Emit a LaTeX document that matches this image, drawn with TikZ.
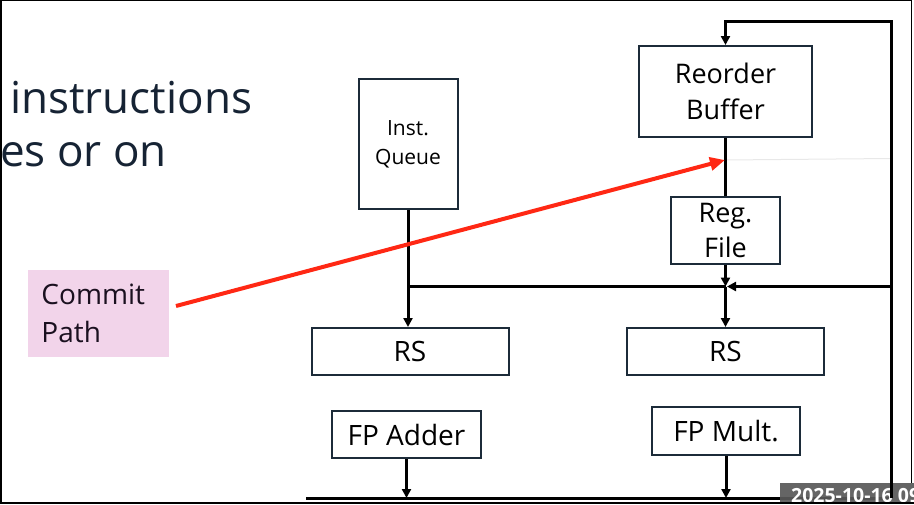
\documentclass[tikz,border=0pt]{standalone}
\usepackage{fontspec}
\setmainfont{Open Sans}
\usepackage{tikz}
\usetikzlibrary{arrows.meta}

\definecolor{slidetext}{RGB}{22,35,52}
\definecolor{boxedge}{RGB}{28,43,57}
\definecolor{commitpink}{RGB}{242,212,234}
\definecolor{commitred}{RGB}{255,40,20}
\definecolor{stampgray}{RGB}{88,88,88}

\tikzset{
  blk/.style={draw=boxedge, line width=2pt, fill=white, inner sep=0pt, align=center},
  conn/.style={line width=3pt},
  arr/.style={line width=3pt, -{Triangle[length=9pt,width=9pt]}},
}

\begin{document}
\begin{tikzpicture}[x=1pt,y=1pt,yscale=-1]
\useasboundingbox (0,0) rectangle (914,504);

% Text Node
\node[anchor=base west, inner sep=0pt, text=slidetext, font=\fontsize{44}{53}\selectfont] (txtA) at (10,113) {instructions};
% Text Node
\node[anchor=base west, inner sep=0pt, text=slidetext, font=\fontsize{44}{53}\selectfont] (txtB) at (0,166) {es or on};

%Shape: Rectangle [Inst. Queue]
\node[blk, minimum width=99, minimum height=130, font=\fontsize{21}{29}\selectfont] (iq) at (408,144) {Inst.\\Queue};
%Shape: Rectangle [Reorder Buffer]
\node[blk, minimum width=173, minimum height=91, font=\fontsize{27}{36}\selectfont] (rob) at (725.5,91.5) {Reorder\\Buffer};
%Shape: Rectangle [Reg. File]
\node[blk, minimum width=109, minimum height=67, font=\fontsize{27}{35.5}\selectfont] (rf) at (725.5,230.5) {Reg.\\File};
%Shape: Rectangle [RS]
\node[blk, minimum width=197, minimum height=47, font=\fontsize{28}{34}\selectfont] (rsA) at (410,351.5) {RS};
\node[blk, minimum width=197, minimum height=47, font=\fontsize{28}{34}\selectfont] (rsM) at (725.5,351.5) {RS};
%Shape: Rectangle [units]
\node[blk, minimum width=149, minimum height=47, font=\fontsize{28}{34}\selectfont] (fpa) at (406.5,434.5) {FP Adder};
\node[blk, minimum width=148, minimum height=48, font=\fontsize{28}{34}\selectfont] (fpm) at (726,431) {FP Mult.};

%Shape: Rectangle [Commit Path]
\node[fill=commitpink, minimum width=141, minimum height=87, text width=114, inner xsep=13.5, inner ysep=0pt, align=left, text={rgb,255:red,26;green,16;blue,31}, font=\fontsize{28}{38}\selectfont] (commit) at (98.5,313.5) {Commit\\Path};

% bus coordinates
\coordinate (busR) at (891,286.5);
\coordinate (busB) at (891,498);
\coordinate (busBL) at (306,498);
\coordinate (fbTop) at (891,21);
\coordinate (cpStart) at (176,306);
\coordinate (cpTip) at (725,160);
\coordinate (faintR) at (891,158.5);

% faint slide line
\draw[gray!18, line width=1pt] (cpTip) -- (faintR);

% connectors
\draw[conn] (rob) -- (rf);
\draw[arr] (rf) -- (rf.south |- busR);
\draw[arr] (busR) -- ([xshift=1.5pt]rf.south |- busR);
\draw[conn] (rf.south |- busR) -- (iq.south |- busR);
\draw[arr] (iq) -- (iq.south |- rsA.north);
\draw[arr] (rf.south |- busR) -- (rsM);
\draw[arr] (fpa) -- (fpa.south |- busB);
\draw[arr] (fpm) -- (fpm.south |- busB);
\draw[conn] (busBL) -- (busB);

% commit path arrow
\draw[commitred, line width=4pt, -{Triangle[length=15pt,width=13pt]}] (cpStart) -- (cpTip);

% time stamp
\fill[stampgray, opacity=0.92] (780,483) rectangle (914,504);
\node[anchor=base west, inner sep=0pt, text=white, font=\bfseries\fontsize{19.5}{21}\selectfont] (stamp) at (791,502) {2025-10-16 09};

% feedback path
\draw[arr] (busB) -- (fbTop) -| (rob.north);

% frame
\draw[line width=2pt] (1,0) -- (1,504);
\draw[line width=1pt] (0,0.5) -- (911.5,0.5) -- (911.5,483);
\draw[line width=2pt] (0,503) -- (914,503);

\end{tikzpicture}
\end{document}
